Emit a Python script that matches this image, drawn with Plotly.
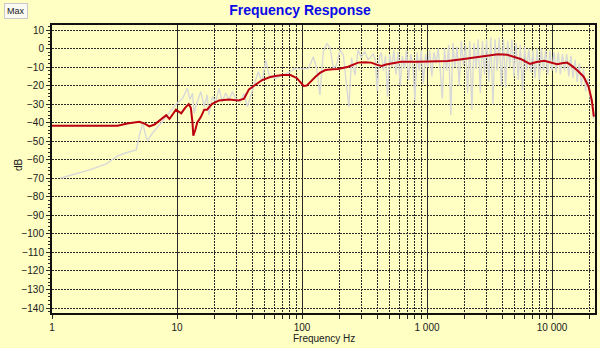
import plotly.graph_objects as go

# ---------------- data ----------------
red_freq = [1, 3.35, 4.0, 5.0, 5.5, 6.0, 6.6, 7.5, 8.2, 8.7, 9.8, 10.8, 11.6, 12.4, 12.9,
            13.3, 13.5, 14.0, 14.5, 15.5, 16.5, 17.4, 19, 21.7, 26, 31, 34.4, 37.6, 43, 48,
            55, 61, 70, 81, 91, 97, 103, 109, 118, 128, 140, 154, 175, 195, 234, 260, 281,
            320, 358, 400, 433, 470, 517, 620, 850, 1000, 1466, 1900, 2410, 3000, 3680, 4380,
            5000, 5600, 6650, 7500, 8650, 9800, 11000, 12000, 13200, 14500, 15800, 17900,
            19600, 20800, 21600]
red_db = [-41.6, -41.6, -40.5, -39.5, -40.5, -42, -41, -38, -36, -38, -33, -35, -32, -30, -32,
          -40, -47, -44, -40, -37, -33, -33, -30, -28, -27.5, -28, -27, -22, -19, -17,
          -15.5, -14.8, -14.3, -14.3, -16, -18.5, -20.2, -20, -17.5, -15.2, -13, -11.6, -11.2,
          -11, -9.8, -8.5, -7.6, -7.4, -7.6, -8.8, -9.4, -8.6, -8, -7.1, -7.1, -7.0, -6.7, -5.8,
          -4.7, -3.8, -3.1, -3.4, -4.4, -5.6, -8.3, -7.3, -6.6, -7.5, -8.5, -8.0, -7.6, -9.5,
          -11.6, -15.2, -20.6, -28, -36.8]

gray_freq = [1.16, 1.5, 2.0, 2.72, 3.27, 3.8, 4.4, 4.72, 5.0, 5.3, 5.67, 5.83, 6.3, 7.0, 7.6,
             8.18, 9.0, 9.82, 11.08, 12.1, 12.7, 13.3, 13.7, 14.3, 15.5, 16.5, 17.4, 18.0,
             19.2, 20.4, 21.7, 23.0, 24.5, 26.0, 27.7, 29.4, 32.3, 34.3, 36.5, 38.9, 42.6,
             44.6, 48.0, 51.2, 54.4, 61.2, 69.1, 78.2, 88.4, 99.9, 113, 123, 131, 139, 148,
             158, 168, 178, 189, 201, 214, 227, 237, 249, 265, 281, 298, 317, 337, 371, 385,
             400, 415, 430, 447, 465, 483, 502, 522, 543, 565, 587, 610, 634, 659, 685, 712,
             740, 770, 800, 832, 865, 899, 935, 972, 1010,
             1050, 1092, 1135, 1180, 1227, 1275, 1325, 1378, 1432, 1489,
             1548, 1609, 1673, 1739, 1808, 1880, 1954, 2031, 2112, 2195,
             2282, 2372, 2466, 2564, 2665, 2771, 2880, 2994, 3113, 3236,
             3364, 3497, 3636, 3779, 3929, 4084, 4246, 4414, 4589, 4770,
             4959, 5156, 5360, 5572, 5792, 6021, 6260, 6507, 6765, 7033,
             7311, 7600, 7901, 8214, 8539, 8877, 9228, 9594, 9973, 10368,
             10778, 11205, 11648, 12109, 12589, 13087, 13605, 14143, 14703, 15285,
             15890, 16519, 17173, 17853, 18560, 19295, 20059, 20853, 21500]
gray_db = [-70, -68, -65.5, -62.3, -58.3, -56.5, -55.5, -54.7, -47, -40.2, -48, -49.4, -46,
           -42, -39.5, -36.8, -33, -30, -26.9, -21.5, -27.5, -24.2, -35, -30, -23.3, -31.4,
           -25, -35.9, -26, -28.7, -21.5, -28.7, -24, -27.6, -23.3, -26.9, -28.7, -24.2,
           -31.4, -25, -16.1, -12.5, -17.9, -6.2, -14.3, -16.1, -14.3, -13, -10.7, -11,
           -10.7, -4.4, -10.7, -25, -1.7, 2.8, 0.1, -10.7, -9, -0.9, -3.5, -17.9, -31.4, -5,
           -14.3, -0.8, -5, -1.5, -6, -3, -6,
           -23, -5, -2, -12, -4, -26, -3, -10, -1, -14, -2, -20, -4, -11, -1, -17, -3, -9,
           -28, -2, -12, -1, -19, -3, -10,
           -1, -15, -2, -8, 0, -12, -27, 0, -12, 2,
           -36, 3, -10, 1, -20, 4, -9, 2, -24, 4,
           -33, 3, -11, 5, -24, 4, -14, 5, -18, 6,
           -30, 5, -12, 6, -20, 5, -21, 4, -10, 5,
           -15, 3, -17, 2, -23, 1, -12, 0, -13, -1,
           -16, 0, -17, 0, -12, -1, -14, -1, -12, -2,
           -13, -2, -14, -3, -12, -3, -15, -4, -16, -6,
           -18, -8, -20, -11, -23, -16, -26, -30, -38]

x_tickvals = [1, 10, 100, 1000, 10000]
x_ticktext = ["1", "10", "100", "1 000", "10 000"]
x_minor = [20, 30, 40, 50, 60, 70, 80, 90,
           200, 300, 400, 500, 600, 700, 800, 900,
           2000, 3000, 4000, 5000, 6000, 7000, 8000, 9000, 20000]
y_ticks = list(range(-140, 11, 10))

# ---------------- figure ----------------
BG = "#FFFFC4"
GRID = "#2A2A2A"
FONT = "Arial, Liberation Sans, sans-serif"

fig = go.Figure()
fig.add_trace(go.Scatter(x=gray_freq, y=gray_db, mode="lines",
                         line=dict(color="#D8D8D8", width=1.4), hoverinfo="skip"))
fig.add_trace(go.Scatter(x=red_freq, y=red_db, mode="lines",
                         line=dict(color="#BC0010", width=2)))

fig.update_layout(
    width=600, height=348,
    margin=dict(l=52, r=3, t=25, b=35),
    paper_bgcolor=BG, plot_bgcolor=BG,
    showlegend=False,
    font=dict(family=FONT, size=10, color="#202020"),
    title=dict(text="<b>Frequency Response</b>", x=0.5, xref="container", xanchor="center",
               y=1 - 10 / 348, yref="container", yanchor="middle",
               font=dict(family=FONT, size=14, color="#0A0AE6")),
)

fig.update_xaxes(
    type="log", range=[0, 4.3434],
    tickmode="array", tickvals=x_tickvals, ticktext=x_ticktext,
    showgrid=True, gridcolor=GRID, gridwidth=1,
    showline=True, mirror=True, linecolor="#101010", linewidth=2,
    ticks="outside", ticklen=4, tickcolor=GRID,
    tickfont=dict(size=10, color="#202020"),
    minor=dict(tickmode="array", tickvals=x_minor, showgrid=True, gridcolor=GRID,
               griddash="2px,1px", gridwidth=1, ticks="outside", ticklen=4, tickcolor=GRID),
    zeroline=False,
)
fig.update_yaxes(
    range=[-142.7, 12.7],
    tickmode="array", tickvals=y_ticks,
    showgrid=True, gridcolor=GRID, gridwidth=1, griddash="2px,1px",
    showline=True, mirror=True, linecolor="#101010", linewidth=2,
    ticks="outside", ticklen=4, tickcolor=GRID,
    tickfont=dict(size=10, color="#202020"),
    minor=dict(dtick=2, ticks="outside", ticklen=2, tickcolor=GRID, showgrid=False),
    zeroline=False,
)

fig.add_annotation(text="Max", xref="paper", yref="paper",
                   x=(16 - 52) / 545, y=(313 - 11) / 288, xanchor="center", yanchor="middle",
                   showarrow=False, font=dict(family=FONT, size=9, color="#202020"),
                   bgcolor="#FAFAF2", bordercolor="#C8C8C8", borderwidth=1, borderpad=2)
fig.add_annotation(text="dB", xref="paper", yref="paper",
                   x=(18 - 52) / 545, y=(313 - 165) / 288, xanchor="center", yanchor="middle",
                   textangle=-90, showarrow=False, font=dict(family=FONT, size=10, color="#202020"))
fig.add_annotation(text="Frequency Hz", xref="paper", yref="paper",
                   x=0.5, y=(313 - 338) / 288, xanchor="center", yanchor="middle",
                   showarrow=False, font=dict(family=FONT, size=10, color="#202020"))

fig.write_html("out.html")
